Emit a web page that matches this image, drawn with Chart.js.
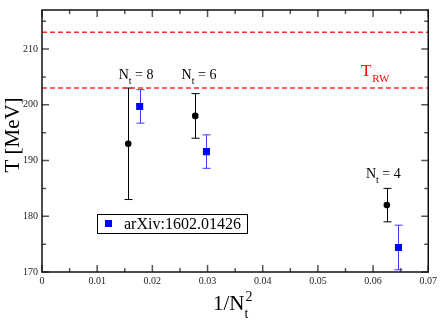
<!DOCTYPE html>
<html>
<head>
<meta charset="utf-8">
<script src="https://cdn.jsdelivr.net/npm/chart.js@4.4.0/dist/chart.umd.min.js"></script>
<style>
  html, body { margin: 0; padding: 0; background: #fff; }
  #chart { display: block; }
</style>
</head>
<body>
<canvas id="chart" width="440" height="321"></canvas>
<script>
// lattice results (black circles), x = 1/Nt^2
const ntValues = [8, 6, 4];
const latX = [1 / 64, 1 / 36, 1 / 16];
const latT = [193, 198, 182];
const latErr = [10, 4, 3];

// arXiv:1602.01426 (blue squares)
const arxX = [0.0177, 0.0298, 0.0646];
const arxT = [199.7, 191.6, 174.4];
const arxErr = [3, 3, 4];
const arxLabel = "arXiv:1602.01426";

// T_RW band edges (dashed red lines)
const trwLines = [213, 203];

// axes
const xRange = [0, 0.07];
const yRange = [170, 217];
const xTicks = [0, 0.01, 0.02, 0.03, 0.04, 0.05, 0.06, 0.07];
const xMinor = [0.005, 0.015, 0.025, 0.035, 0.045, 0.055, 0.065];
const yTicks = [170, 180, 190, 200, 210];
const yMinor = [175, 185, 195, 205, 215];

// text labels placed in data coordinates
const ntLabelPos = [
  { x: 0.0139, y: 204.7 },
  { x: 0.0253, y: 204.7 },
  { x: 0.0587, y: 186.8 },
];
const trwLabelPos = { x: 0.0578, y: 205.2 };

const SERIF = "'Liberation Serif', 'DejaVu Serif', serif";

function subText(ctx, x, y, main, sub, mainSize, subSize, drop, gap) {
  ctx.font = mainSize + "px " + SERIF;
  ctx.fillText(main, x, y);
  const w = ctx.measureText(main).width;
  ctx.font = subSize + "px " + SERIF;
  ctx.fillText(sub, x + w + (gap || 0), y + drop);
  return w + (gap || 0) + ctx.measureText(sub).width;
}

const errorBars = {
  id: "errorBars",
  beforeDatasetsDraw(chart) {
    const { ctx, scales: { x, y } } = chart;
    const sets = [
      { xs: latX, ys: latT, es: latErr, color: "#000000" },
      { xs: arxX, ys: arxT, es: arxErr, color: "#3a3aff" },
    ];
    ctx.save();
    ctx.lineWidth = 1;
    sets.forEach((s) => {
      ctx.strokeStyle = s.color;
      s.xs.forEach((xv, i) => {
        const px = Math.round(x.getPixelForValue(xv)) + 0.5;
        const top = y.getPixelForValue(s.ys[i] + s.es[i]);
        const bot = y.getPixelForValue(s.ys[i] - s.es[i]);
        ctx.beginPath();
        ctx.moveTo(px, top);
        ctx.lineTo(px, bot);
        ctx.moveTo(px - 4, top);
        ctx.lineTo(px + 4, top);
        ctx.moveTo(px - 4, bot);
        ctx.lineTo(px + 4, bot);
        ctx.stroke();
      });
    });
    ctx.restore();
  },
};

const decorations = {
  id: "decorations",
  afterDraw(chart) {
    const { ctx, chartArea: a, scales: { x, y } } = chart;
    ctx.save();

    // ticks on all four sides, pointing inward
    ctx.strokeStyle = "#555";
    ctx.lineWidth = 1.5;
    ctx.beginPath();
    const xt = (vals, len) => vals.forEach((v) => {
      const px = x.getPixelForValue(v);
      ctx.moveTo(px, a.bottom); ctx.lineTo(px, a.bottom - len);
      ctx.moveTo(px, a.top); ctx.lineTo(px, a.top + len);
    });
    const yt = (vals, len) => vals.forEach((v) => {
      const py = y.getPixelForValue(v);
      ctx.moveTo(a.left, py); ctx.lineTo(a.left + len, py);
      ctx.moveTo(a.right, py); ctx.lineTo(a.right - len, py);
    });
    xt(xTicks, 7); xt(xMinor, 4);
    yt(yTicks, 7); yt(yMinor, 4);
    ctx.stroke();

    // frame
    ctx.strokeStyle = "#111";
    ctx.lineWidth = 1.5;
    ctx.strokeRect(a.left, a.top, a.right - a.left, a.bottom - a.top);

    // N_t labels
    ctx.fillStyle = "#000";
    ctx.textBaseline = "alphabetic";
    ctx.textAlign = "left";
    ntLabelPos.forEach((p, i) => {
      const px = x.getPixelForValue(p.x);
      const py = y.getPixelForValue(p.y);
      const w = subText(ctx, px, py, "N", "t", 14, 10, 5, 0);
      ctx.font = "14px " + SERIF;
      ctx.fillText(" = " + ntValues[i], px + w, py);
    });

    // T_RW label
    ctx.fillStyle = "#ff0000";
    subText(ctx, x.getPixelForValue(trwLabelPos.x), y.getPixelForValue(trwLabelPos.y),
      "T", "RW", 17, 11, 6, 1);

    // legend box
    ctx.fillStyle = "#fff";
    ctx.fillRect(97.5, 214.5, 150, 19);
    ctx.strokeStyle = "#000";
    ctx.lineWidth = 1;
    ctx.strokeRect(97.5, 214.5, 150, 19);
    ctx.fillStyle = "#0000ff";
    ctx.fillRect(105, 220, 7, 7);
    ctx.fillStyle = "#000";
    ctx.font = "16px " + SERIF;
    ctx.fillText(arxLabel, 124, 229);

    // y axis title
    ctx.save();
    ctx.translate(19, 135);
    ctx.rotate(-Math.PI / 2);
    ctx.textAlign = "center";
    ctx.font = "21px " + SERIF;
    ctx.fillText("T [MeV]", 0, 0);
    ctx.restore();

    // x axis title 1/N_t^2
    ctx.font = "21px " + SERIF;
    const x0 = 213;
    ctx.fillText("1/N", x0, 310);
    const w = ctx.measureText("1/N").width;
    ctx.font = "14px " + SERIF;
    ctx.fillText("t", x0 + w, 318);
    ctx.fillText("2", x0 + w + 1, 301);

    ctx.restore();
  },
};

new Chart(document.getElementById("chart"), {
  type: "scatter",
  data: {
    datasets: [
      {
        label: "lattice",
        data: latX.map((v, i) => ({ x: v, y: latT[i] })),
        pointStyle: "circle",
        pointRadius: 3.3,
        backgroundColor: "#000",
        borderWidth: 0,
      },
      {
        label: arxLabel,
        data: arxX.map((v, i) => ({ x: v, y: arxT[i] })),
        pointStyle: "rect",
        pointRadius: 5,
        backgroundColor: "#0000ff",
        borderWidth: 0,
      },
      ...trwLines.map((t) => ({
        type: "line",
        label: "T_RW",
        data: [{ x: xRange[0], y: t }, { x: xRange[1], y: t }],
        borderColor: "#ff2a2a",
        borderWidth: 1.5,
        borderDash: [5, 3],
        pointRadius: 0,
      })),
    ],
  },
  options: {
    responsive: false,
    animation: false,
    devicePixelRatio: 1,
    layout: { padding: { top: 1, right: 10.5, left: 0, bottom: 0 } },
    plugins: { legend: { display: false }, tooltip: { enabled: false } },
    scales: {
      x: {
        type: "linear",
        min: xRange[0],
        max: xRange[1],
        grid: { display: false, drawTicks: false },
        border: { display: false },
        ticks: {
          autoSkip: false,
          maxRotation: 0,
          padding: 3,
          color: "#222",
          font: { family: SERIF, size: 10 },
          callback: (v) => String(Math.round(v * 100) / 100),
        },
        afterBuildTicks: (s) => { s.ticks = xTicks.map((v) => ({ value: v })); },
        afterFit: (s) => { s.height = 49; },
      },
      y: {
        type: "linear",
        min: yRange[0],
        max: yRange[1],
        grid: { display: false, drawTicks: false },
        border: { display: false },
        ticks: {
          autoSkip: false,
          padding: 4,
          color: "#222",
          font: { family: SERIF, size: 10 },
        },
        afterBuildTicks: (s) => { s.ticks = yTicks.map((v) => ({ value: v })); },
        afterFit: (s) => { s.width = 42; },
      },
    },
  },
  plugins: [errorBars, decorations],
});
</script>
</body>
</html>
